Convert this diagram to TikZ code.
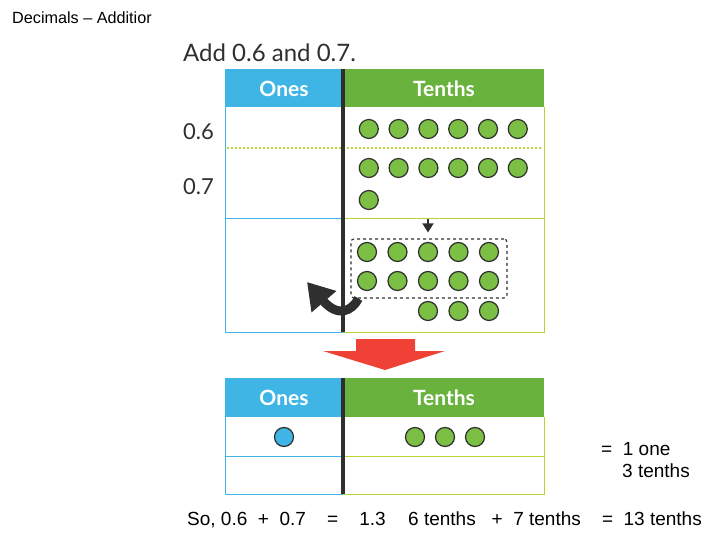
\documentclass[tikz,border=0pt]{standalone}
\usepackage{fontspec}
\setmainfont{Liberation Sans}
\newfontfamily\book{Lato}
\usepackage{xcolor}
\usetikzlibrary{arrows.meta,positioning}
\definecolor{onesblue}{HTML}{3FB5E6}
\definecolor{tenthsgreen}{HTML}{6AB23E}
\definecolor{countergreen}{HTML}{7BBF45}
\definecolor{ink}{HTML}{2F2F2F}
\definecolor{linegreen}{HTML}{B6D433}
\definecolor{arrowred}{HTML}{EF4136}

\begin{document}
\begin{tikzpicture}[x=1pt,y=-1pt,
  hdr/.style={inner sep=0pt,text=white,font=\book\bfseries\fontsize{21}{21}\selectfont},
  counter/.style={circle,draw=ink,line width=1.2pt,fill=countergreen,minimum size=19pt,inner sep=0pt},
  onecounter/.style={counter,fill=onesblue},
  lbl/.style={anchor=base west,inner sep=0pt,font=\fontsize{19}{19}\selectfont},
  bookl/.style={anchor=base west,inner sep=0pt,text=ink,font=\book\fontsize{22}{22}\selectfont},
  oneline/.style={onesblue,line width=0.8pt},
  tenline/.style={linegreen,line width=0.8pt},
  divider/.style={ink,line width=4pt}]
  \useasboundingbox (0,0) rectangle (720,540);
  \node[lbl,font=\fontsize{16.2}{16.2}\selectfont] (title) at (12,23.5) {Decimals – Additior};
  \node[bookl,font=\book\fontsize{24}{24}\selectfont] (task) at (183,62) {Add 0.6 and 0.7.};
  % top table
  \fill[onesblue] (225,69) rectangle (343,107);
  \fill[tenthsgreen] (343,69) rectangle (544,107);
  \node[hdr] (onesA) at (284,89) {Ones};
  \node[hdr] (tenthsA) at (444,89) {Tenths};
  \draw[oneline] (225,107) -- (225,332) -- (343,332) (225,218) -- (343,218);
  \draw[tenline] (544,107) -- (544,332) -- (343,332) (343,218) -- (544,218);
  \draw[linegreen,line width=1.3pt,dash pattern=on 1.5pt off 2.5pt] (227,148) -- (542,148);
  \draw[divider] (343,69) -- (343,332);
  \node[bookl] (six) at (183,140) {0.6};
  \node[bookl] (seven) at (183,195) {0.7};
  \foreach \i in {1,...,6} \node[counter] (a\i) at ({339+29.8*\i},129) {};
  \foreach \i in {1,...,6} \node[counter] (b\i) at ({339+29.8*\i},168) {};
  \node[counter] (b7) at (368.8,200) {};
  % regrouped tenths
  \node[draw=ink,dashed,rounded corners=3pt,line width=1.1pt,minimum width=156pt,
    minimum height=59pt,inner sep=0pt] (group) at (429,268.5) {};
  \foreach \i in {1,...,5} \node[counter] (c\i) at ({336.5+30.5*\i},252) {};
  \foreach \i in {1,...,5} \node[counter] (d\i) at ({336.5+30.5*\i},281) {};
  \foreach \i in {3,4,5} \node[counter] (e\i) at ({336.5+30.5*\i},311) {};
  \coordinate (drop) at (428,219);
  \draw[ink,line width=1.5pt,-{Triangle[length=9pt,width=11pt]},shorten >=6pt] (drop) -- (group.north -| drop);
  \coordinate (carry) at (307,282);
  \draw[ink,line width=9pt,-{Triangle[length=26pt,width=31pt]}]
    ([xshift=8pt]group.south west) .. controls (352,311) and (338,318) .. (carry);
  % big arrow
  \fill[arrowred] (356,339) -- (415,339) -- (415,351) -- (445,351) -- (385,370)
    -- (323,351) -- (356,351) -- cycle;
  % bottom table
  \fill[onesblue] (225,378) rectangle (343,417);
  \fill[tenthsgreen] (343,378) rectangle (544,417);
  \node[hdr] (onesB) at (284,398) {Ones};
  \node[hdr] (tenthsB) at (444,398) {Tenths};
  \draw[oneline] (225,417) -- (225,494) -- (343,494) (225,456) -- (343,456);
  \draw[tenline] (544,417) -- (544,494) -- (343,494) (343,456) -- (544,456);
  \draw[divider] (343,378) -- (343,494);
  \node[onecounter] (one) at (284,437) {};
  \foreach \i in {1,2,3} \node[counter] (f\i) at ({385+30*\i},437) {};
  % sums
  \node[lbl] (result) at (601,455) {=~~1 one};
  \node[lbl] (rest) at (622,477) {3 tenths};
  \node[lbl] (so) at (187,525) {So, 0.6~~+~~0.7~~~~=~~~~1.3};
  \node[lbl] (sum) at (408,525) {6 tenths~~~+~~7 tenths~~~~=~~13 tenths};
\end{tikzpicture}
\end{document}
